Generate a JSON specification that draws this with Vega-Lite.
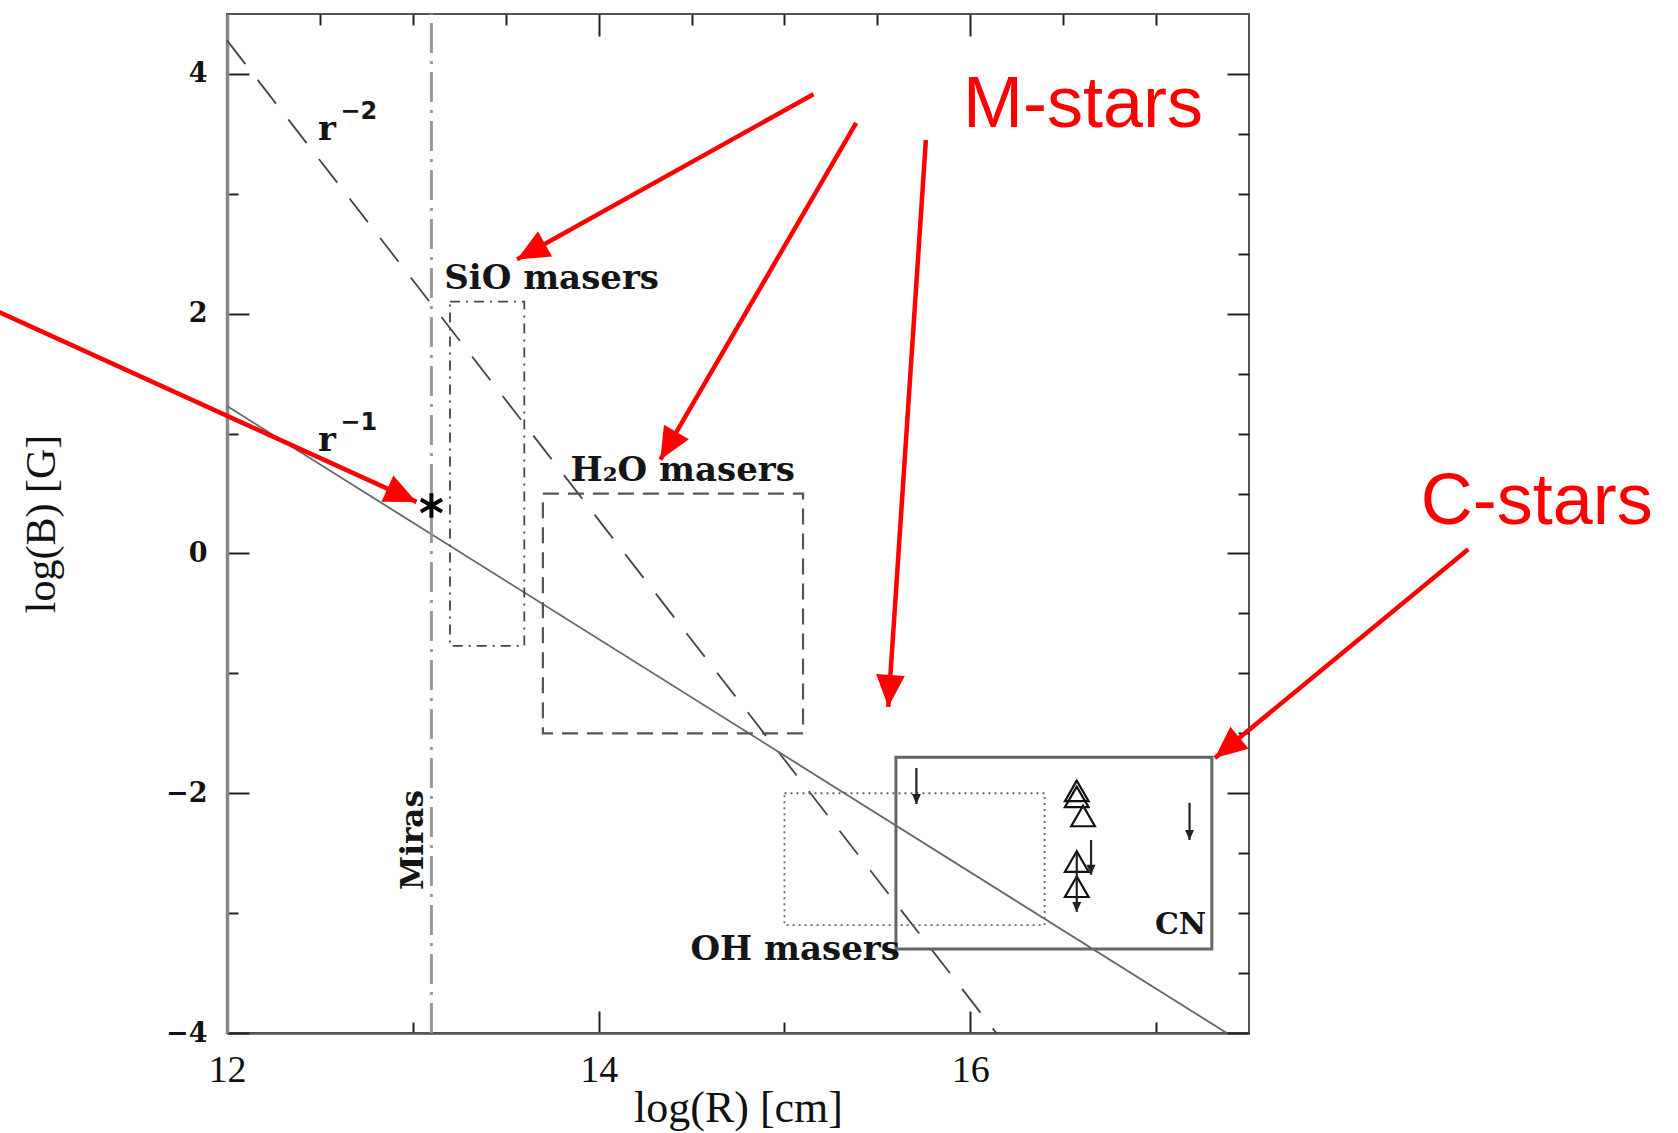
{
  "$schema": "https://vega.github.io/schema/vega-lite/v6.json",
  "width": 1022,
  "height": 1019,
  "autosize": {"type": "none"},
  "padding": {"left": 227, "top": 14, "right": 429, "bottom": 100},
  "background": "white",
  "config": {"view": {"stroke": "#555", "strokeWidth": 2}},
  "datasets": {
    "lines": [
      {"name": "r2", "x": 12, "y": 4.28, "x2": 16.14, "y2": -4},
      {"name": "r1", "x": 12, "y": 1.23, "x2": 17.38, "y2": -4},
      {"name": "miras", "x": 13.1, "y": -4, "x2": 13.1, "y2": 4.5}
    ],
    "boxes": [
      {"name": "SiO", "x": 13.2, "x2": 13.6, "y": -0.77, "y2": 2.1},
      {"name": "H2O", "x": 13.7, "x2": 15.1, "y": -1.5, "y2": 0.5},
      {"name": "OH", "x": 15.0, "x2": 16.4, "y": -3.1, "y2": -2.0},
      {"name": "CN", "x": 15.6, "x2": 17.3, "y": -3.3, "y2": -1.7}
    ],
    "labels": [
      {"label": "SiO masers", "x": 13.169, "y": 2.204},
      {"label": "H₂O masers", "x": 13.849, "y": 0.604},
      {"label": "OH masers", "x": 14.494, "y": -3.387},
      {"label": "r", "x": 12.49, "y": 3.449},
      {"label": "r", "x": 12.49, "y": 0.853}
    ],
    "cn": [{"label": "CN", "x": 17.27, "y": -3.173}],
    "sups": [
      {"label": "−2", "x": 12.61, "y": 3.627},
      {"label": "−1", "x": 12.61, "y": 1.031}
    ],
    "vlabels": [{"label": "Miras", "x": 13.054, "y": -2.391}],
    "tri": [
      {"x": 16.573, "y": -1.98},
      {"x": 16.573, "y": -2.03},
      {"x": 16.607, "y": -2.19},
      {"x": 16.573, "y": -2.57},
      {"x": 16.573, "y": -2.78}
    ],
    "limits": [
      {"x": 15.71, "y": -1.79, "y2": -2.09},
      {"x": 17.18, "y": -2.08, "y2": -2.39},
      {"x": 16.65, "y": -2.39, "y2": -2.68},
      {"x": 16.573, "y": -2.5, "y2": -2.99}
    ],
    "star": [{"x": 13.1, "y": 0.4}],
    "redarrows": [
      {"x": 15.156, "y": 3.831, "x2": 13.561, "y2": 2.453},
      {"x": 15.386, "y": 3.591, "x2": 14.332, "y2": 0.782},
      {"x": 15.761, "y": 3.449, "x2": 15.559, "y2": -1.28},
      {"x": 18.68, "y": 0.036, "x2": 17.316, "y2": -1.707},
      {"x": 10.7, "y": 2.065, "x2": 13.02, "y2": 0.43}
    ],
    "redtext": [
      {"label": "M-stars", "x": 16.607, "y": 3.556},
      {"label": "C-stars", "x": 19.049, "y": 0.249}
    ]
  },
  "resolve": {"axis": {"x": "independent", "y": "independent"}},
  "layer": [
    {
      "data": {"name": "lines"},
      "transform": [{"filter": "datum.name === 'r2'"}],
      "mark": {"type": "rule", "color": "#444", "strokeWidth": 1.8, "strokeDash": [30, 20]},
      "encoding": {
        "x": {"field": "x", "type": "quantitative",
          "scale": {"domain": [12, 17.5], "nice": false, "zero": false},
          "axis": {"orient": "bottom", "values": [12, 12.5, 13, 13.5, 14, 14.5, 15, 15.5, 16, 16.5, 17], "format": "d",
            "title": "log(R) [cm]", "titleFont": "Liberation Serif", "titleFontSize": 44, "titleFontWeight": "normal", "titleColor": "#111", "titlePadding": -14,
            "labelFont": "Liberation Serif", "labelFontSize": 38, "labelColor": "#111", "labelPadding": 40, "labelFlush": false, "labelOverlap": false,
            "labelExpr": "datum.value % 2 === 0 ? datum.label : ''",
            "tickColor": "#222", "tickWidth": 2,
            "tickSize": {"condition": {"test": "datum.value % 2 === 0", "value": -22}, "value": -11},
            "domain": true, "domainColor": "#555", "domainWidth": 2.5, "grid": false}},
        "y": {"field": "y", "type": "quantitative",
          "scale": {"domain": [-4, 4.5], "nice": false, "zero": false},
          "axis": {"orient": "left", "values": [-4, -3.5, -3, -2.5, -2, -1.5, -1, -0.5, 0, 0.5, 1, 1.5, 2, 2.5, 3, 3.5, 4], "format": "d",
            "title": "log(B) [G]", "titleFont": "Liberation Serif", "titleFontSize": 42, "titleFontWeight": "normal", "titleColor": "#111", "titlePadding": 102,
            "labelFont": "DejaVu Serif", "labelFontWeight": "bold", "labelFontSize": 27, "labelColor": "#111", "labelPadding": 42, "labelFlush": false, "labelOverlap": false,
            "labelExpr": "datum.value % 2 === 0 ? datum.label : ''",
            "tickColor": "#222", "tickWidth": 2,
            "tickSize": {"condition": {"test": "datum.value % 2 === 0", "value": -22}, "value": -11},
            "domain": true, "domainColor": "#888", "domainWidth": 3.5, "grid": false}},
        "x2": {"field": "x2"},
        "y2": {"field": "y2"}
      }
    },
    {
      "data": {"name": "lines"},
      "transform": [{"filter": "datum.name === 'r1'"}],
      "mark": {"type": "rule", "color": "#666", "strokeWidth": 1.8},
      "encoding": {
        "x": {"field": "x", "type": "quantitative",
          "axis": {"orient": "top", "values": [12, 12.5, 13, 13.5, 14, 14.5, 15, 15.5, 16, 16.5, 17],
            "title": null, "labels": false, "tickColor": "#222", "tickWidth": 2,
            "tickSize": {"condition": {"test": "datum.value % 2 === 0", "value": -22}, "value": -11},
            "domain": false, "grid": false}},
        "y": {"field": "y", "type": "quantitative",
          "axis": {"orient": "right", "values": [-4, -3.5, -3, -2.5, -2, -1.5, -1, -0.5, 0, 0.5, 1, 1.5, 2, 2.5, 3, 3.5, 4],
            "title": null, "labels": false, "tickColor": "#222", "tickWidth": 2,
            "tickSize": {"condition": {"test": "datum.value % 2 === 0", "value": -22}, "value": -11},
            "domain": false, "grid": false}},
        "x2": {"field": "x2"},
        "y2": {"field": "y2"}
      }
    },
    {
      "data": {"name": "lines"},
      "transform": [{"filter": "datum.name === 'miras'"}],
      "mark": {"type": "rule", "color": "#999", "strokeWidth": 3, "strokeDash": [30, 8, 3, 8]},
      "encoding": {
        "x": {"field": "x", "type": "quantitative", "axis": null},
        "y": {"field": "y", "type": "quantitative", "axis": null},
        "x2": {"field": "x2"},
        "y2": {"field": "y2"}
      }
    },
    {
      "data": {"name": "boxes"},
      "transform": [{"filter": "datum.name === 'SiO'"}],
      "mark": {"type": "rect", "fillOpacity": 0, "stroke": "#444", "strokeWidth": 1.8, "strokeDash": [10, 6, 2, 6]},
      "encoding": {
        "x": {"field": "x", "type": "quantitative", "axis": null},
        "x2": {"field": "x2"},
        "y": {"field": "y", "type": "quantitative", "axis": null},
        "y2": {"field": "y2"}
      }
    },
    {
      "data": {"name": "boxes"},
      "transform": [{"filter": "datum.name === 'H2O'"}],
      "mark": {"type": "rect", "fillOpacity": 0, "stroke": "#555", "strokeWidth": 2.2, "strokeDash": [16, 9]},
      "encoding": {
        "x": {"field": "x", "type": "quantitative", "axis": null},
        "x2": {"field": "x2"},
        "y": {"field": "y", "type": "quantitative", "axis": null},
        "y2": {"field": "y2"}
      }
    },
    {
      "data": {"name": "boxes"},
      "transform": [{"filter": "datum.name === 'OH'"}],
      "mark": {"type": "rect", "fillOpacity": 0, "stroke": "#666", "strokeWidth": 1.8, "strokeDash": [2, 4]},
      "encoding": {
        "x": {"field": "x", "type": "quantitative", "axis": null},
        "x2": {"field": "x2"},
        "y": {"field": "y", "type": "quantitative", "axis": null},
        "y2": {"field": "y2"}
      }
    },
    {
      "data": {"name": "boxes"},
      "transform": [{"filter": "datum.name === 'CN'"}],
      "mark": {"type": "rect", "fillOpacity": 0, "stroke": "#666", "strokeWidth": 3},
      "encoding": {
        "x": {"field": "x", "type": "quantitative", "axis": null},
        "x2": {"field": "x2"},
        "y": {"field": "y", "type": "quantitative", "axis": null},
        "y2": {"field": "y2"}
      }
    },
    {
      "data": {"name": "labels"},
      "mark": {"type": "text", "align": "left", "baseline": "alphabetic", "font": "DejaVu Serif", "fontWeight": "bold", "fontSize": 34, "color": "#151515"},
      "encoding": {
        "x": {"field": "x", "type": "quantitative", "axis": null},
        "y": {"field": "y", "type": "quantitative", "axis": null},
        "text": {"field": "label"}
      }
    },
    {
      "data": {"name": "cn"},
      "mark": {"type": "text", "align": "right", "baseline": "alphabetic", "font": "DejaVu Serif", "fontWeight": "bold", "fontSize": 30, "color": "#151515"},
      "encoding": {
        "x": {"field": "x", "type": "quantitative", "axis": null},
        "y": {"field": "y", "type": "quantitative", "axis": null},
        "text": {"field": "label"}
      }
    },
    {
      "data": {"name": "sups"},
      "mark": {"type": "text", "align": "left", "baseline": "alphabetic", "font": "DejaVu Sans", "fontWeight": "bold", "fontSize": 24, "color": "#151515"},
      "encoding": {
        "x": {"field": "x", "type": "quantitative", "axis": null},
        "y": {"field": "y", "type": "quantitative", "axis": null},
        "text": {"field": "label"}
      }
    },
    {
      "data": {"name": "vlabels"},
      "mark": {"type": "text", "align": "center", "baseline": "alphabetic", "angle": 270, "font": "DejaVu Serif", "fontWeight": "bold", "fontSize": 31, "color": "#151515"},
      "encoding": {
        "x": {"field": "x", "type": "quantitative", "axis": null},
        "y": {"field": "y", "type": "quantitative", "axis": null},
        "text": {"field": "label"}
      }
    },
    {
      "data": {"name": "tri"},
      "mark": {"type": "point", "shape": "triangle-up", "filled": false, "stroke": "#111", "strokeWidth": 2.2, "size": 560, "opacity": 1},
      "encoding": {
        "x": {"field": "x", "type": "quantitative", "axis": null},
        "y": {"field": "y", "type": "quantitative", "axis": null}
      }
    },
    {
      "data": {"name": "limits"},
      "mark": {"type": "rule", "color": "#222", "strokeWidth": 2.2},
      "encoding": {
        "x": {"field": "x", "type": "quantitative", "axis": null},
        "y": {"field": "y", "type": "quantitative", "axis": null},
        "y2": {"field": "y2"}
      }
    },
    {
      "data": {"name": "limits"},
      "mark": {"type": "point", "shape": "M0,0L-0.45,-1L0.45,-1Z", "filled": true, "color": "#222", "size": 400, "opacity": 1},
      "encoding": {
        "x": {"field": "x", "type": "quantitative", "axis": null},
        "y": {"field": "y2", "type": "quantitative", "axis": null}
      }
    },
    {
      "data": {"name": "star"},
      "mark": {"type": "point", "shape": "M0,-1L0,1M-0.866,-0.5L0.866,0.5M-0.866,0.5L0.866,-0.5", "filled": false, "stroke": "#000", "strokeWidth": 4, "size": 600, "opacity": 1},
      "encoding": {
        "x": {"field": "x", "type": "quantitative", "axis": null},
        "y": {"field": "y", "type": "quantitative", "axis": null}
      }
    },
    {
      "data": {"name": "redarrows"},
      "mark": {"type": "rule", "color": "#ff0000", "strokeWidth": 4.5, "strokeCap": "butt"},
      "encoding": {
        "x": {"field": "x", "type": "quantitative", "axis": null},
        "y": {"field": "y", "type": "quantitative", "axis": null},
        "x2": {"field": "x2"},
        "y2": {"field": "y2"}
      }
    },
    {
      "data": {"name": "redarrows"},
      "mark": {"type": "point", "shape": "M0,0L-0.45,1L0.45,1Z", "filled": true, "color": "#ff0000", "size": 4096, "opacity": 1,
        "angle": {"expr": "atan2(scale('x', datum.x2) - scale('x', datum.x), scale('y', datum.y) - scale('y', datum.y2)) * 180 / PI"}},
      "encoding": {
        "x": {"field": "x2", "type": "quantitative", "axis": null},
        "y": {"field": "y2", "type": "quantitative", "axis": null}
      }
    },
    {
      "data": {"name": "redtext"},
      "mark": {"type": "text", "align": "center", "baseline": "alphabetic", "font": "Liberation Sans", "fontSize": 72, "color": "#ff0000"},
      "encoding": {
        "x": {"field": "x", "type": "quantitative", "axis": null},
        "y": {"field": "y", "type": "quantitative", "axis": null},
        "text": {"field": "label"}
      }
    }
  ]
}
